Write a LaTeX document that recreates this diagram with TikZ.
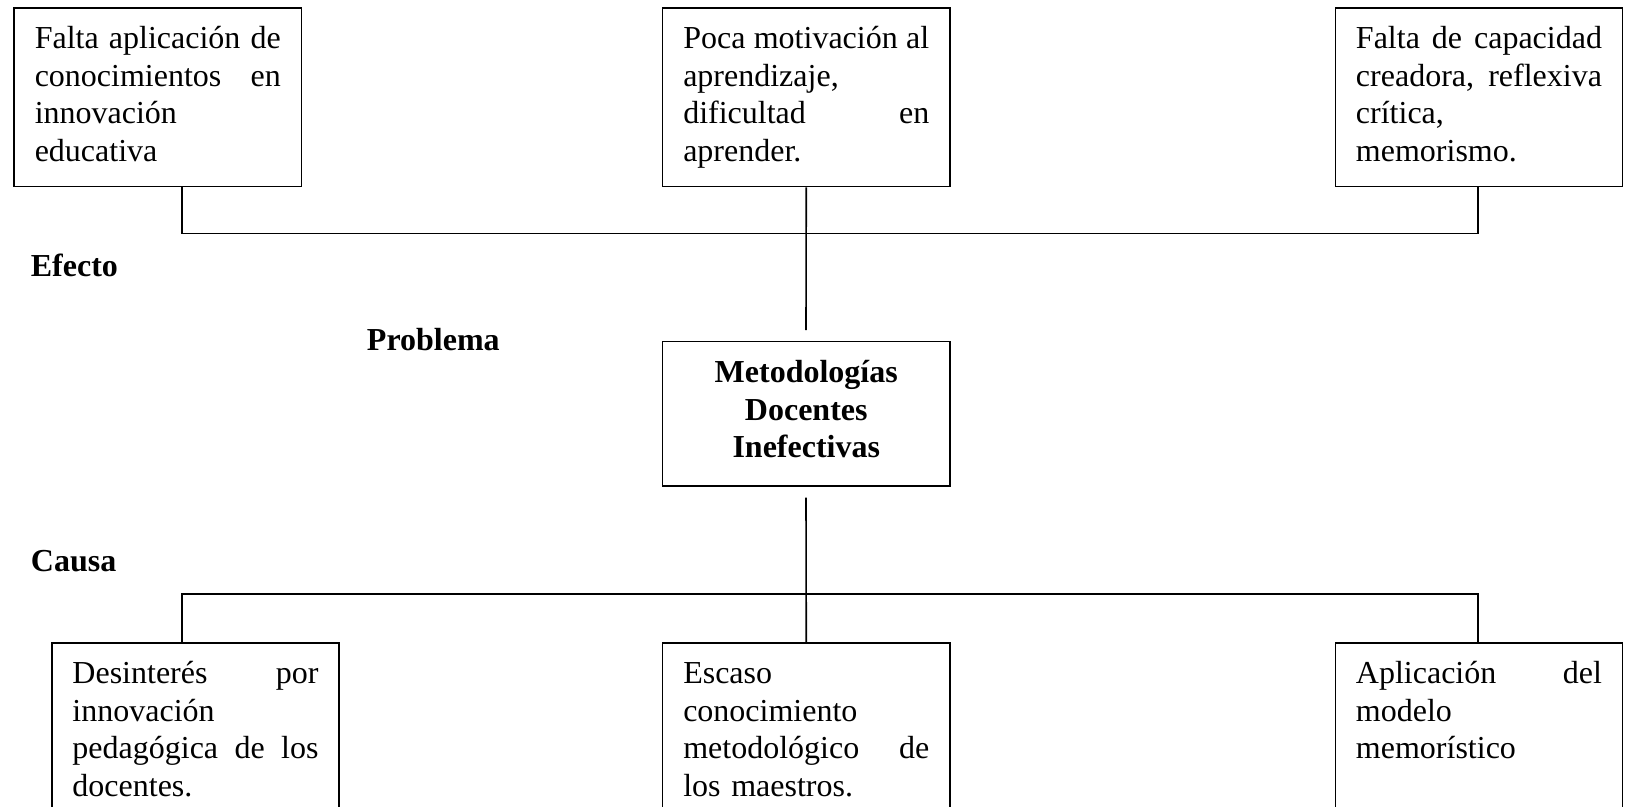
\documentclass[tikz,border=0pt]{standalone}
\usepackage{fontspec}
\setmainfont{Liberation Serif}
\newcommand\jline[1]{\noindent\hbox to\hsize{\spaceskip=0.25em plus 1fil\relax #1}\par}
\newcommand\pline[1]{\noindent #1\par}
\tikzset{
  box/.style={draw, line width=1.2pt, inner xsep=15.5pt, inner ysep=0pt,
    text width=184.5pt, anchor=north west,
    font=\fontsize{24}{28.2}\selectfont, text height=30.5pt},
  topbox/.style={box, text depth=103.3pt},
  botbox/.style={box, text depth=160pt},
  probbox/.style={box, align=center, font=\bfseries\fontsize{24}{28.2}\selectfont,
    text height=30.75pt, text depth=77.45pt},
  lbl/.style={inner sep=0pt, anchor=base west, font=\bfseries\fontsize{24}{28}\selectfont},
  conn/.style={line width=1.2pt}
}
\begin{document}
\begin{tikzpicture}[x=0.75pt,y=-0.75pt]
\useasboundingbox (0,0) rectangle (1629,807);
\clip (0,0) rectangle (1629,807);

% effects
\node[topbox] (b1) at (13.3,7.3) {\jline{Falta aplicación de}\jline{conocimientos en}\pline{innovación}\pline{educativa}};
\node[topbox] (b2) at (661.8,7.3) {\jline{Poca motivación al}\pline{aprendizaje,}\jline{dificultad en}\pline{aprender.}};
\node[topbox] (b3) at (1334.5,7.3) {\jline{Falta de capacidad}\jline{creadora, reflexiva}\pline{crítica,}\pline{memorismo.}};

% problem
\node[probbox] (p) at (661.8,340.7) {Metodologías\\Docentes\\Inefectivas};

% causes
\node[botbox] (c1) at (51,642.3) {\jline{Desinterés por}\pline{innovación}\jline{pedagógica de los}\pline{docentes.}};
\node[botbox] (c2) at (661.8,642.3) {\pline{Escaso}\pline{conocimiento}\jline{metodológico de}\pline{los maestros.}};
\node[botbox] (c3) at (1334.5,642.3) {\jline{Aplicación del}\pline{modelo}\pline{memorístico}};

% labels
\node[lbl] (efecto) at (30.6,276.7) {Efecto};
\node[lbl] (problema) at (366.7,350.7) {Problema};
\node[lbl] (causa) at (30.7,571.7) {Causa};

% connectors
\coordinate (eL) at (181.7,233.3);
\coordinate (eR) at (1478,233.3);
\coordinate (eM) at (806,330);
\coordinate (cT) at (806,497.5);
\coordinate (cL) at (181.7,594);
\coordinate (cR) at (1478,594);
\draw[conn] (b1.south -| eL) -- (eL) -- (eR) -- (b3.south -| eR);
\draw[conn] (b2.south) -- (eM);
\draw[conn] (cT) -- (c2.north);
\draw[conn] (c1.north -| cL) -- (cL) -- (cR) -- (c3.north -| cR);
\end{tikzpicture}
\end{document}
